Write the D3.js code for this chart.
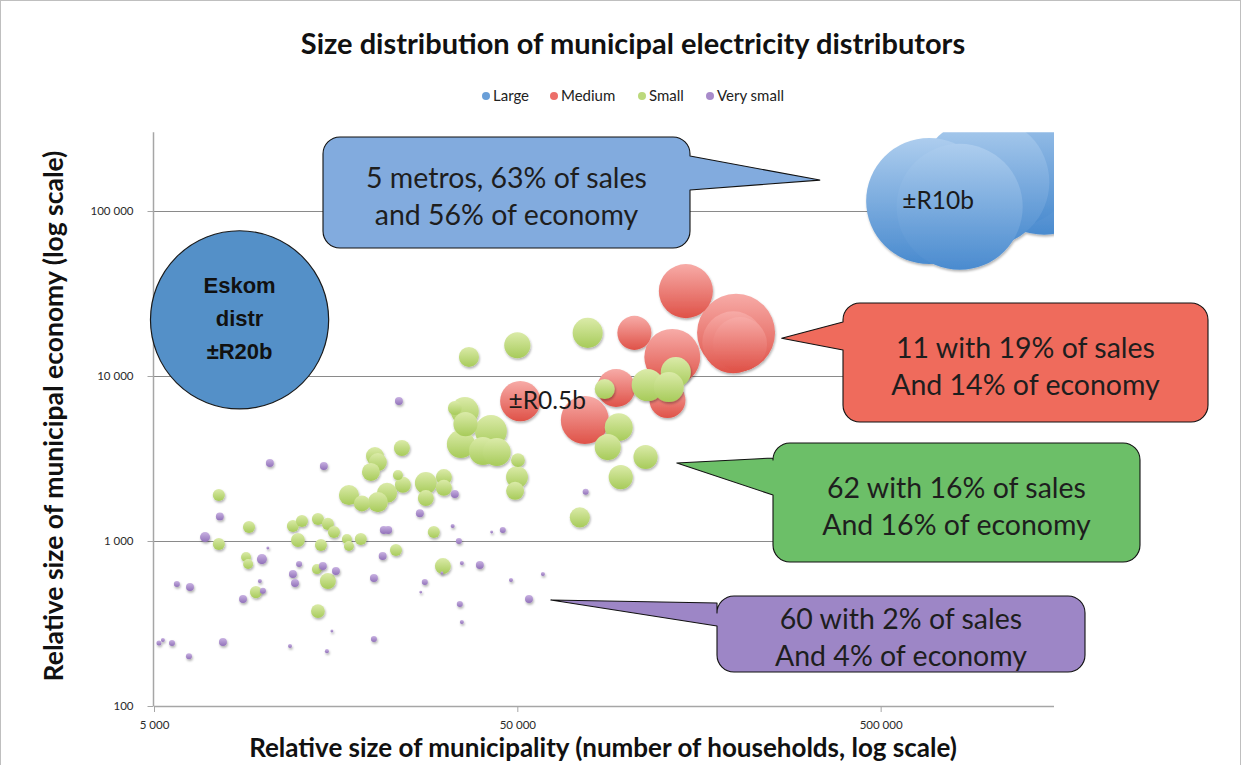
<!DOCTYPE html>
<html>
<head>
<meta charset="utf-8">
<script src="https://cdn.jsdelivr.net/npm/d3@7"></script>
<style>
  body { margin: 0; background: #fff; }
  svg { display: block; }
</style>
</head>
<body>
<svg id="chart" width="1251" height="765"></svg>
<script>
// ---- Data: [households, economy index, sales (R million)] ----
const large = [
  [680000, 115000, 10000], [825000, 106000, 10000], [965000, 150000, 10800],
  [1135000, 204000, 12000], [1410000, 190000, 13000]
];
const medium = [
  [145500, 32700, 1080], [200000, 18260, 2830], [196500, 16000, 1550], [205000, 15600, 1080],
  [133500, 13050, 1180], [105000, 18260, 320], [93500, 8460, 430], [129500, 7150, 370],
  [76700, 5410, 790], [50950, 7050, 500]
];
const small = [
  [36800, 13050, 80], [50000, 15360, 160], [78100, 18260, 230], [87000, 8340, 80],
  [114200, 8810, 270], [136500, 10570, 230], [130600, 8570, 230], [95100, 4900, 190],
  [88700, 3710, 160], [112700, 3230, 130], [96300, 2440, 130], [74300, 1390, 80],
  [35850, 6130, 190], [36000, 5110, 130], [42300, 4640, 270], [34950, 3870, 190],
  [40200, 3510, 190], [43900, 3460, 190], [33650, 6400, 30], [50200, 3090, 30],
  [49900, 2440, 100], [49300, 2015, 60], [24060, 3660, 44], [20280, 3270, 60],
  [20660, 3010, 60], [19770, 2620, 60], [23460, 2510, 13], [24210, 2190, 44],
  [21900, 1960, 80], [20660, 1720, 80], [17200, 1900, 80], [18670, 1690, 44],
  [28000, 2250, 100], [28000, 1820, 44], [31390, 2440, 44], [31390, 2100, 44],
  [29450, 1135, 21], [16980, 1028, 13], [17200, 933, 13], [18540, 1028, 21],
  [23170, 882, 21], [31190, 705, 44], [7540, 1900, 21], [9130, 1217, 21],
  [7540, 959, 21], [8960, 800, 13], [9080, 725, 13], [9540, 490, 21],
  [12060, 1234, 21], [12770, 1323, 21], [12450, 1014, 30], [14130, 1360, 21],
  [15050, 1270, 21], [15640, 1135, 21], [14400, 946, 21], [14040, 676, 13],
  [15050, 572, 44], [14130, 376, 30]
];
const verySmall = [
  [10420, 2970, 7], [14670, 2850, 7], [23610, 7050, 7], [7590, 1410, 7],
  [6910, 1057, 13], [10290, 907, 0.5], [9910, 777, 13], [5780, 549, 3.4],
  [6281, 526, 7], [9780, 572, 1.2], [9972, 500, 3.4], [8790, 445, 7],
  [5160, 241, 2.1], [5290, 251, 1.2], [5604, 241, 3.4], [7740, 244, 7],
  [6240, 200, 3.4], [11840, 231, 1.2], [14960, 215, 1.2], [15440, 285, 0.5],
  [20150, 255, 3.4], [12540, 725, 3.4], [12060, 631, 7], [12220, 557, 7],
  [14580, 705, 7], [15840, 658, 7], [20150, 596, 7], [21300, 811, 7],
  [21450, 1166, 7], [22060, 1166, 7], [26960, 1474, 7], [33650, 1930, 7],
  [33190, 1234, 1.2], [34530, 1000, 3.4], [35180, 735, 1.2], [39430, 716, 7],
  [27820, 564, 3.4], [27120, 490, 0.5], [34730, 415, 3.4], [35180, 323, 1.2],
  [42500, 1135, 0.5], [31000, 640, 0.5], [45600, 1166, 3.4], [48030, 580, 1.2],
  [58800, 631, 1.2], [53840, 445, 7], [77100, 1986, 3.4]
];
const eskom = [8600, 21900, 20000];

const seriesNames = ["Large", "Medium", "Small", "Very small"];
const seriesData = [large, medium, small, verySmall];
const xTicks = [5000, 50000, 500000];
const yTicks = [100, 1000, 10000, 100000];

const titleText = "Size distribution of municipal electricity distributors";
const xTitle = "Relative size of municipality (number of households, log scale)";
const yTitle = "Relative size of municipal economy (log scale)";

// Callout notes: text lines, tail tip in data space
const notes = [
  { lines: ["5 metros, 63% of sales", "and 56% of economy"], tip: [340000, 154000], fill: "#82abde",
    box: [323, 137, 690, 248], side: "right", base: [156, 190] },
  { lines: ["11 with 19% of sales", "And 14% of economy"], tip: [267000, 16940], fill: "#ef6b5c",
    box: [843, 303, 1208, 422], side: "left", base: [322, 350] },
  { lines: ["62 with 16% of sales", "And 16% of economy"], tip: [137400, 2970], fill: "#6cbf68",
    box: [773, 443, 1140, 562], side: "left", base: [458, 495] },
  { lines: ["60 with 2% of sales", "And 4% of economy"], tip: [61800, 439], fill: "#9d86c6",
    box: [717, 596, 1085, 672], side: "left", base: [603, 626] }
];

// ---- Layout ----
const W = 1251, H = 765;
const plot = { left: 154, right: 1054, top: 132.3, bottom: 706 };
const palette = {
  "Large": ["#adcdee", "#4a8bcf", "#6a9fd8"],
  "Medium": ["#f7aba7", "#df5248", "#ec6f6a"],
  "Small": ["#dbeba9", "#a7cb5a", "#bcd97c"],
  "Very small": ["#c9b2e2", "#9171b9", "#a88bca"]
};
const font = "Lato, 'Open Sans', sans-serif";

const svg = d3.select("#chart");
const defs = svg.append("defs");

const x = d3.scaleLog().domain([5000, 1500000]).range([plot.left, plot.right]);
const y = d3.scaleLog().domain([100, 300000]).range([plot.bottom, plot.top]);
const r = d3.scalePow().exponent(0.38).domain([0, 10000]).range([0, 63]);
const rShape = d3.scaleSqrt().domain([0, 10000]).range([0, 63]);

seriesNames.forEach((name, i) => {
  const g = defs.append("linearGradient").attr("id", "grad" + i)
    .attr("x1", 0).attr("y1", 0).attr("x2", 0).attr("y2", 1);
  g.append("stop").attr("offset", "0%").attr("stop-color", palette[name][0]);
  g.append("stop").attr("offset", "100%").attr("stop-color", palette[name][1]);
});
const shadow = defs.append("filter").attr("id", "shadow")
  .attr("x", "-30%").attr("y", "-30%").attr("width", "160%").attr("height", "170%");
shadow.append("feDropShadow").attr("dx", 0.8).attr("dy", 1.8).attr("stdDeviation", 1.3)
  .attr("flood-color", "#000").attr("flood-opacity", 0.3);
defs.append("clipPath").attr("id", "plotClip").append("rect")
  .attr("x", plot.left).attr("y", plot.top)
  .attr("width", plot.right - plot.left).attr("height", plot.bottom - plot.top);

// outer frame
svg.append("rect").attr("x", 0.5).attr("y", 0.5).attr("width", 1240).attr("height", H + 10)
  .attr("fill", "none").attr("stroke", "#bfbfbf");

// title
svg.append("text").attr("x", 633).attr("y", 54).attr("text-anchor", "middle")
  .attr("font-family", font).attr("font-weight", 700)
  .attr("font-size", 29).attr("fill", "#111").text(titleText);

// legend
const legendX = [486, 554, 642, 710];
const legend = svg.append("g").attr("font-family", font).attr("font-size", 15).attr("fill", "#222");
seriesNames.forEach((name, i) => {
  legend.append("circle").attr("cx", legendX[i]).attr("cy", 96).attr("r", 4).attr("fill", palette[name][2]);
  legend.append("text").attr("x", legendX[i] + 7).attr("y", 101).text(name);
});

// gridlines
svg.append("g").selectAll("line").data(yTicks.filter(d => d > 100)).join("line")
  .attr("x1", plot.left).attr("x2", plot.right)
  .attr("y1", d => Math.round(y(d)) + 0.5).attr("y2", d => Math.round(y(d)) + 0.5)
  .attr("stroke", "#8a8a8a").attr("stroke-width", 1);

const fmt = d => d3.format(",")(d).replace(/,/g, " ");

// axes
const xAxis = svg.append("g").attr("transform", `translate(0,${plot.bottom})`)
  .call(d3.axisBottom(x).tickValues(xTicks).tickFormat(fmt).tickSize(6).tickPadding(9));
const yAxis = svg.append("g").attr("transform", `translate(${plot.left - 0.5},0)`)
  .call(d3.axisLeft(y).tickValues(yTicks).tickFormat(fmt).tickSize(6).tickPadding(14));
[xAxis, yAxis].forEach(a => {
  a.select(".domain").attr("stroke", "#a6a6a6").attr("stroke-width", 1.5);
  a.selectAll(".tick line").attr("stroke", "#a6a6a6");
  a.selectAll(".tick text").attr("font-family", font).attr("font-size", 11.5).attr("fill", "#2a2a2a");
});
xAxis.select(".domain").attr("d", `M${plot.left},0.5H${plot.right}`);
yAxis.select(".domain").attr("d", `M0,${plot.top}V${plot.bottom}`);

// axis titles
svg.append("text").attr("x", 603).attr("y", 757).attr("text-anchor", "middle")
  .attr("font-family", font).attr("font-weight", 700).attr("font-size", 26)
  .attr("fill", "#111").text(xTitle);
svg.append("text").attr("transform", "translate(63,416) rotate(-90)").attr("text-anchor", "middle")
  .attr("font-family", font).attr("font-weight", 700).attr("font-size", 26.5)
  .attr("fill", "#111").text(yTitle);

// bubbles
const bubbles = svg.append("g").attr("clip-path", "url(#plotClip)");
seriesData.forEach((data, i) => {
  const sorted = data.slice().sort((a, b) => b[2] - a[2]);
  bubbles.append("g").attr("filter", "url(#shadow)")
    .selectAll("circle").data(sorted).join("circle")
    .attr("cx", d => x(d[0])).attr("cy", d => y(d[1])).attr("r", d => r(d[2]))
    .attr("fill", `url(#grad${i})`);
});

// value labels on two bubbles
const valueLabel = (d, text, dx) => svg.append("text")
  .attr("x", x(d[0]) + dx).attr("y", y(d[1]) + 8).attr("text-anchor", "middle")
  .attr("font-family", font).attr("font-size", 24.5).attr("fill", "#1a1a1a").text(text);
valueLabel(large[0], "±R" + large[0][2] / 1000 + "b", 9);
valueLabel(medium[9], "±R" + medium[9][2] / 1000 + "b", 27);

// Eskom distribution circle
svg.append("circle").attr("cx", x(eskom[0])).attr("cy", y(eskom[1])).attr("r", rShape(eskom[2]))
  .attr("fill", "#5490c8").attr("stroke", "#1a1a1a").attr("stroke-width", 1.2);
const eskomLines = ["Eskom", "distr", "±R" + eskom[2] / 1000 + "b"];
svg.append("g").selectAll("text").data(eskomLines).join("text")
  .attr("x", x(eskom[0])).attr("y", (d, i) => y(eskom[1]) - 27 + i * 33)
  .attr("text-anchor", "middle").attr("font-family", "'Liberation Sans', Arial, sans-serif")
  .attr("font-weight", 700).attr("font-size", 22).attr("fill", "#111").text(d => d);

// callouts
function calloutPath(n) {
  const [x0, y0, x1, y1] = n.box, rr = 17;
  const tx = x(n.tip[0]), ty = y(n.tip[1]);
  const [a, b] = n.base;
  let p = `M${x0 + rr},${y0}H${x1 - rr}A${rr},${rr} 0 0 1 ${x1},${y0 + rr}`;
  if (n.side === "right") p += `V${a}L${tx},${ty}L${x1},${b}`;
  p += `V${y1 - rr}A${rr},${rr} 0 0 1 ${x1 - rr},${y1}H${x0 + rr}A${rr},${rr} 0 0 1 ${x0},${y1 - rr}`;
  if (n.side === "left") p += `V${b}L${tx},${ty}L${x0},${a}`;
  p += `V${y0 + rr}A${rr},${rr} 0 0 1 ${x0 + rr},${y0}Z`;
  return p;
}
const callouts = svg.append("g");
notes.forEach(n => {
  callouts.append("path").attr("d", calloutPath(n)).attr("fill", n.fill)
    .attr("stroke", "#111").attr("stroke-width", 1.1).attr("stroke-linejoin", "round");
  const cx = (n.box[0] + n.box[2]) / 2, cy = (n.box[1] + n.box[3]) / 2;
  n.lines.forEach((line, i) => {
    callouts.append("text").attr("x", cx).attr("y", cy - 5 + i * 37)
      .attr("text-anchor", "middle").attr("font-family", font)
      .attr("font-size", 28.5).attr("fill", "#1e1e1e").text(line);
  });
});
</script>
</body>
</html>
